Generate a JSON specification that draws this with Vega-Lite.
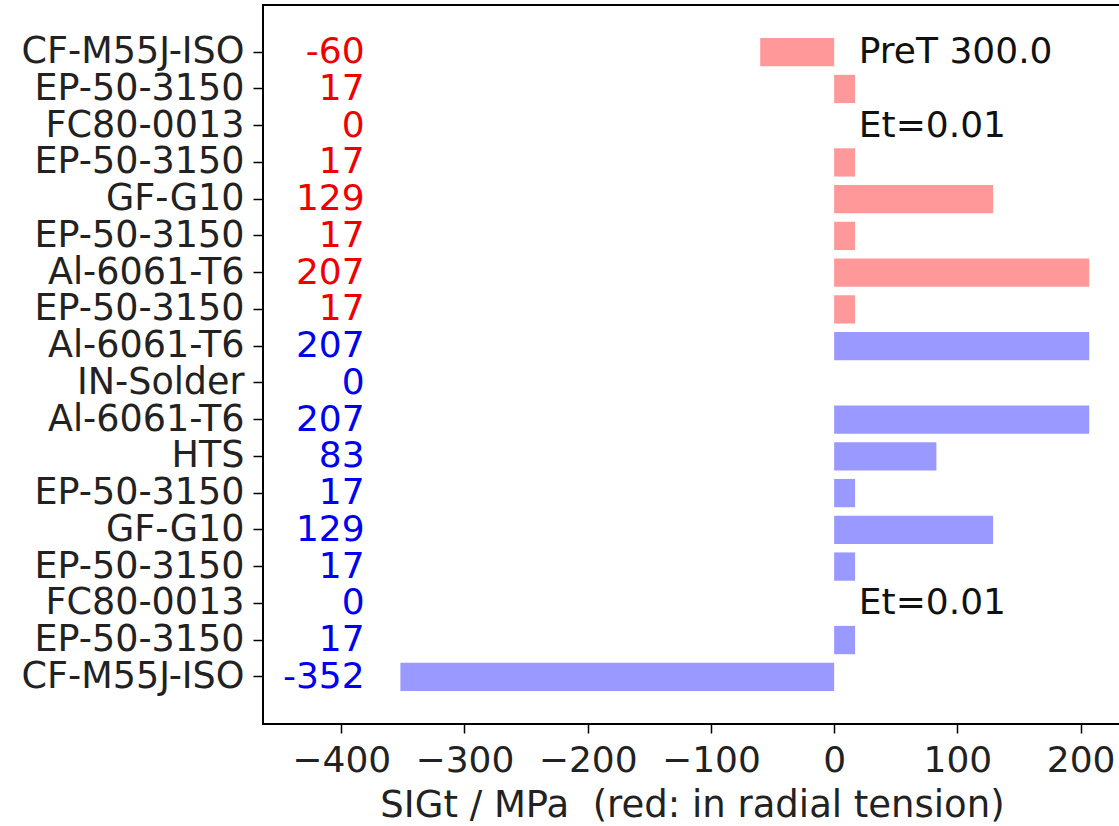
{
  "$schema": "https://vega.github.io/schema/vega-lite/v6.json",
  "autosize": {"type": "none"},
  "width": 858,
  "height": 719,
  "padding": {"left": 263, "top": 5, "right": 0, "bottom": 102},
  "background": "white",
  "config": {
    "font": "DejaVu Sans",
    "view": {"stroke": "black", "strokeWidth": 2},
    "axis": {"labelFont": "DejaVu Sans", "titleFont": "DejaVu Sans", "labelColor": "#222", "titleColor": "#222", "tickColor": "black", "domain": false, "grid": false}
  },
  "datasets": {
    "bars": [
      {"id": "00|CF-M55J-ISO", "sigt": -60, "group": "upper"},
      {"id": "01|EP-50-3150", "sigt": 17, "group": "upper"},
      {"id": "02|FC80-0013", "sigt": 0, "group": "upper"},
      {"id": "03|EP-50-3150", "sigt": 17, "group": "upper"},
      {"id": "04|GF-G10", "sigt": 129, "group": "upper"},
      {"id": "05|EP-50-3150", "sigt": 17, "group": "upper"},
      {"id": "06|Al-6061-T6", "sigt": 207, "group": "upper"},
      {"id": "07|EP-50-3150", "sigt": 17, "group": "upper"},
      {"id": "08|Al-6061-T6", "sigt": 207, "group": "lower"},
      {"id": "09|IN-Solder", "sigt": 0, "group": "lower"},
      {"id": "10|Al-6061-T6", "sigt": 207, "group": "lower"},
      {"id": "11|HTS", "sigt": 83, "group": "lower"},
      {"id": "12|EP-50-3150", "sigt": 17, "group": "lower"},
      {"id": "13|GF-G10", "sigt": 129, "group": "lower"},
      {"id": "14|EP-50-3150", "sigt": 17, "group": "lower"},
      {"id": "15|FC80-0013", "sigt": 0, "group": "lower"},
      {"id": "16|EP-50-3150", "sigt": 17, "group": "lower"},
      {"id": "17|CF-M55J-ISO", "sigt": -352, "group": "lower"}
    ],
    "notes": [
      {"id": "00|CF-M55J-ISO", "note": "PreT 300.0"},
      {"id": "02|FC80-0013", "note": "Et=0.01"},
      {"id": "15|FC80-0013", "note": "Et=0.01"}
    ]
  },
  "layer": [
    {
      "data": {"name": "bars"},
      "mark": {"type": "bar"},
      "encoding": {
        "y": {"field": "id", "type": "nominal", "sort": null,
          "scale": {"paddingInner": 0.23, "paddingOuter": 0.9},
          "axis": {"title": null, "labelExpr": "split(datum.label, '|')[1]", "labelFontSize": 36.5, "labelLimit": 0, "tickSize": 10, "tickWidth": 1.5, "labelPadding": 9}},
        "x": {"field": "sigt", "type": "quantitative",
          "scale": {"domain": [-463.5, 232.8], "nice": false, "zero": false},
          "axis": {"title": "SIGt / MPa \u00a0(red: in radial tension)", "values": [-400, -300, -200, -100, 0, 100, 200],
            "labelExpr": "datum.value < 0 ? '\u2212' + abs(datum.value) : datum.label",
            "labelFontSize": 36, "titleFontSize": 37, "titleFontWeight": "normal", "tickSize": 9, "tickWidth": 1.5, "labelPadding": 10, "titlePadding": 9}},
        "color": {"field": "group", "type": "nominal", "legend": null,
          "scale": {"domain": ["upper", "lower"], "range": ["#ff9999", "#9999ff"]}}
      }
    },
    {
      "data": {"name": "bars"},
      "mark": {"type": "text", "align": "right", "baseline": "middle", "fontSize": 36, "font": "DejaVu Sans"},
      "encoding": {
        "y": {"field": "id", "type": "nominal", "sort": null},
        "x": {"datum": -381},
        "text": {"field": "sigt", "type": "nominal"},
        "color": {"field": "group", "type": "nominal", "legend": null,
          "scale": {"domain": ["upper", "lower"], "range": ["#ee0000", "#0000ee"]}}
      }
    },
    {
      "data": {"name": "notes"},
      "mark": {"type": "text", "align": "left", "baseline": "middle", "fontSize": 36, "font": "DejaVu Sans", "color": "#111"},
      "encoding": {
        "y": {"field": "id", "type": "nominal", "sort": null},
        "x": {"datum": 20},
        "text": {"field": "note", "type": "nominal"}
      }
    }
  ],
  "resolve": {"scale": {"color": "independent"}}
}
